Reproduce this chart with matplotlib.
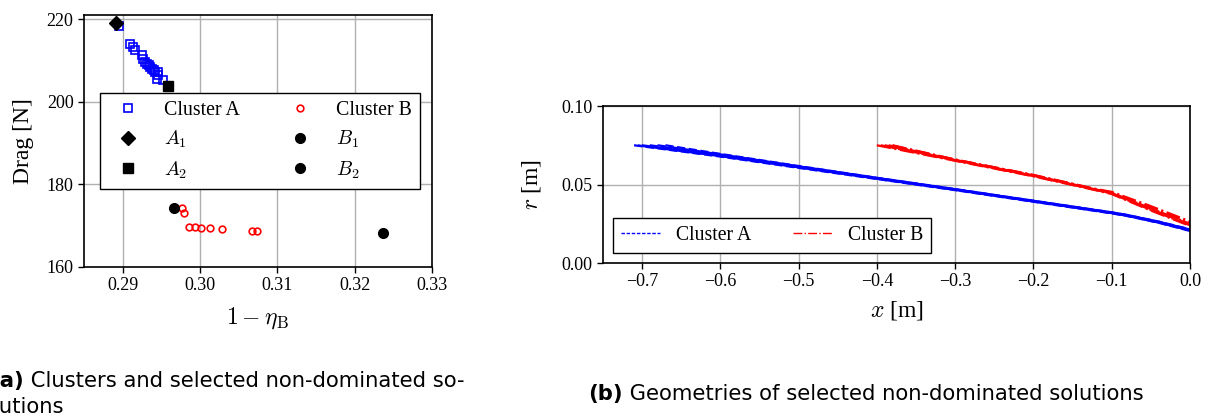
import numpy as np
import matplotlib
matplotlib.use("Agg")
import matplotlib.pyplot as plt
from matplotlib.lines import Line2D

plt.rcParams["font.family"] = "serif"
plt.rcParams["font.serif"] = ["Liberation Serif", "DejaVu Serif"]
plt.rcParams["mathtext.fontset"] = "cm"

# === datos (a): frente de Pareto ===
clusterA_x = [0.2895, 0.2909, 0.2913, 0.2916, 0.2925, 0.2926, 0.2929, 0.2931, 0.2934,
              0.2936, 0.2938, 0.2940, 0.2942, 0.2946, 0.2946, 0.2945, 0.2952]
clusterA_y = [218.4, 214.0, 213.2, 212.6, 211.2, 210.4, 209.6, 209.2, 208.8,
              208.4, 208.0, 207.6, 207.2, 207.2, 206.4, 205.6, 205.2]
clusterB_x = [0.2977, 0.2979, 0.2986, 0.2993, 0.3002, 0.3013, 0.3028, 0.3067, 0.3074]
clusterB_y = [174.4, 173.0, 169.7, 169.7, 169.5, 169.4, 169.1, 168.7, 168.7]
A1 = (0.2892, 219.0)
A2 = (0.2959, 203.8)
B1 = (0.2967, 174.4)
B2 = (0.3237, 168.2)

# === datos (b): geometrías ===
geomA = [
    ([-0.710, -0.600, -0.500, -0.400, -0.300, -0.200, -0.100, -0.080, -0.040, 0.000],
     [0.0750, 0.0678, 0.0606, 0.0535, 0.0464, 0.0390, 0.0316, 0.0299, 0.0256, 0.0204]),
    ([-0.705, -0.600, -0.500, -0.400, -0.300, -0.200, -0.100, -0.080, -0.040, 0.000],
     [0.0749, 0.0681, 0.0609, 0.0537, 0.0466, 0.0392, 0.0318, 0.0300, 0.0257, 0.0207]),
    ([-0.700, -0.600, -0.500, -0.400, -0.300, -0.200, -0.100, -0.080, -0.040, 0.000],
     [0.0750, 0.0684, 0.0611, 0.0539, 0.0467, 0.0393, 0.0319, 0.0302, 0.0259, 0.0209]),
    ([-0.690, -0.600, -0.500, -0.400, -0.300, -0.200, -0.100, -0.080, -0.040, 0.000],
     [0.0750, 0.0688, 0.0614, 0.0541, 0.0469, 0.0395, 0.0321, 0.0304, 0.0261, 0.0211]),
    ([-0.680, -0.600, -0.500, -0.400, -0.300, -0.200, -0.100, -0.080, -0.040, 0.000],
     [0.0750, 0.0692, 0.0616, 0.0542, 0.0470, 0.0396, 0.0322, 0.0305, 0.0263, 0.0213]),
    ([-0.670, -0.600, -0.500, -0.400, -0.300, -0.200, -0.100, -0.080, -0.040, 0.000],
     [0.0750, 0.0695, 0.0618, 0.0543, 0.0471, 0.0397, 0.0323, 0.0306, 0.0264, 0.0215]),
]
geomB = [
    ([-0.400, -0.300, -0.200, -0.120, -0.100, -0.050, 0.000],
     [0.0750, 0.0651, 0.0552, 0.0463, 0.0439, 0.0334, 0.0236]),
    ([-0.395, -0.300, -0.200, -0.120, -0.100, -0.050, 0.000],
     [0.0750, 0.0653, 0.0554, 0.0465, 0.0442, 0.0338, 0.0240]),
    ([-0.390, -0.300, -0.200, -0.120, -0.100, -0.050, 0.000],
     [0.0750, 0.0655, 0.0556, 0.0467, 0.0445, 0.0343, 0.0245]),
    ([-0.385, -0.300, -0.200, -0.120, -0.100, -0.050, 0.000],
     [0.0750, 0.0657, 0.0558, 0.0468, 0.0447, 0.0348, 0.0250]),
    ([-0.380, -0.300, -0.200, -0.120, -0.100, -0.050, 0.000],
     [0.0750, 0.0659, 0.0560, 0.0470, 0.0449, 0.0352, 0.0255]),
    ([-0.380, -0.300, -0.200, -0.120, -0.100, -0.050, 0.000],
     [0.0748, 0.0659, 0.0561, 0.0471, 0.0453, 0.0362, 0.0265]),
]

fig = plt.figure(figsize=(12.13, 4.20), dpi=100)

# === (a) ===
ax1 = fig.add_axes([0.0692, 0.3643, 0.2869, 0.600])
ax1.grid(True, color="#b0b0b0", lw=1.0, zorder=0)
ax1.set_axisbelow(True)
ax1.plot(clusterA_x, clusterA_y, ls="none", marker="s", ms=5.5, mfc="none",
         mec="blue", mew=1.2, label="Cluster A", zorder=3)
ax1.plot(clusterB_x, clusterB_y, ls="none", marker="o", ms=4.8, mfc="none",
         mec="red", mew=1.2, label="Cluster B", zorder=3)
ax1.plot(*A1, ls="none", marker="D", ms=7.5, color="black", zorder=4)
ax1.plot(*A2, ls="none", marker="s", ms=7.5, color="black", zorder=4)
ax1.plot(*B1, ls="none", marker="o", ms=7, color="black", zorder=4)
ax1.plot(*B2, ls="none", marker="o", ms=7, color="black", zorder=4)
ax1.set_xlim(0.285, 0.33)
ax1.set_ylim(160, 221)
ax1.set_xticks([0.29, 0.30, 0.31, 0.32, 0.33])
ax1.set_yticks([160, 180, 200, 220])
ax1.tick_params(labelsize=13, direction="out", length=4, width=1)
ax1.set_xlabel(r"$1-\eta_\mathrm{B}$", fontsize=17, labelpad=8)
ax1.set_ylabel("Drag [N]", fontsize=17, labelpad=9)
for s in ax1.spines.values():
    s.set_linewidth(1.2)

hA = Line2D([], [], ls="none", marker="s", ms=5.5, mfc="none", mec="blue", mew=1.2)
hB = Line2D([], [], ls="none", marker="o", ms=4.8, mfc="none", mec="red", mew=1.2)
hA1 = Line2D([], [], ls="none", marker="D", ms=7.5, color="black")
hA2 = Line2D([], [], ls="none", marker="s", ms=7.5, color="black")
hB1 = Line2D([], [], ls="none", marker="o", ms=7, color="black")
hB2 = Line2D([], [], ls="none", marker="o", ms=7, color="black")
leg1 = ax1.legend([hA, hA1, hA2, hB, hB1, hB2],
                  ["Cluster A", r"$A_1$", r"$A_2$", "Cluster B", r"$B_1$", r"$B_2$"],
                  ncol=2, loc="center", bbox_to_anchor=(0.506, 0.50), fontsize=14.3,
                  fancybox=False, framealpha=1, edgecolor="black",
                  handletextpad=0.85, columnspacing=2.0, labelspacing=0.45)
leg1.get_frame().set_linewidth(1.0)

# === (b) ===
ax2 = fig.add_axes([0.4969, 0.3738, 0.4842, 0.3738])
ax2.grid(True, color="#b0b0b0", lw=1.0, zorder=0)
ax2.set_axisbelow(True)
for gx, gr in geomA:
    ax2.plot(gx, gr, color="blue", ls="--", lw=1.6)
for gx, gr in geomB:
    ax2.plot(gx, gr, color="red", ls="-.", lw=1.6)
ax2.set_xlim(-0.75, 0.0)
ax2.set_ylim(0.0, 0.1)
ax2.set_xticks([-0.7, -0.6, -0.5, -0.4, -0.3, -0.2, -0.1, 0.0])
ax2.set_yticks([0.0, 0.05, 0.10])
ax2.set_yticklabels(["0.00", "0.05", "0.10"])
ax2.tick_params(labelsize=13, direction="out", length=4, width=1)
ax2.set_xlabel(r"$x$ [m]", fontsize=17, labelpad=6)
ax2.set_ylabel(r"$r$ [m]", fontsize=17, labelpad=13)
for s in ax2.spines.values():
    s.set_linewidth(1.2)
lA = Line2D([], [], color="blue", ls=(0, (2.5, 1.2)), lw=1.0)
lB = Line2D([], [], color="red", ls="-.", lw=1.0)
leg2 = ax2.legend([lA, lB], ["Cluster A", "Cluster B"], ncol=2, loc="lower left",
                  bbox_to_anchor=(0.0175, 0.064), borderaxespad=0, fontsize=14.2,
                  fancybox=False, framealpha=1, edgecolor="black",
                  handletextpad=0.8, columnspacing=2.1)
leg2.get_frame().set_linewidth(1.0)

# === subtítulos ===
cap = dict(family="DejaVu Sans", fontsize=15.2, va="center", ha="left")
ta = fig.text(-10 / 1213, 1 - 381 / 420, "(a)", fontweight="bold", **cap)
fig.text(-7 / 1213, 1 - 407 / 420, "lutions", **cap)
fig.canvas.draw()
ax1.annotate(" Clusters and selected non-dominated so-", xy=(1, 0.5), xycoords=ta,
             va="center", ha="left", family="DejaVu Sans", fontsize=15.2,
             annotation_clip=False)
tb = fig.text(588 / 1213, 1 - 394 / 420, "(b)", fontweight="bold", **cap)
ax2.annotate(" Geometries of selected non-dominated solutions", xy=(1, 0.5), xycoords=tb,
             va="center", ha="left", family="DejaVu Sans", fontsize=15.2,
             annotation_clip=False)

fig.savefig("out.png", dpi=100)
